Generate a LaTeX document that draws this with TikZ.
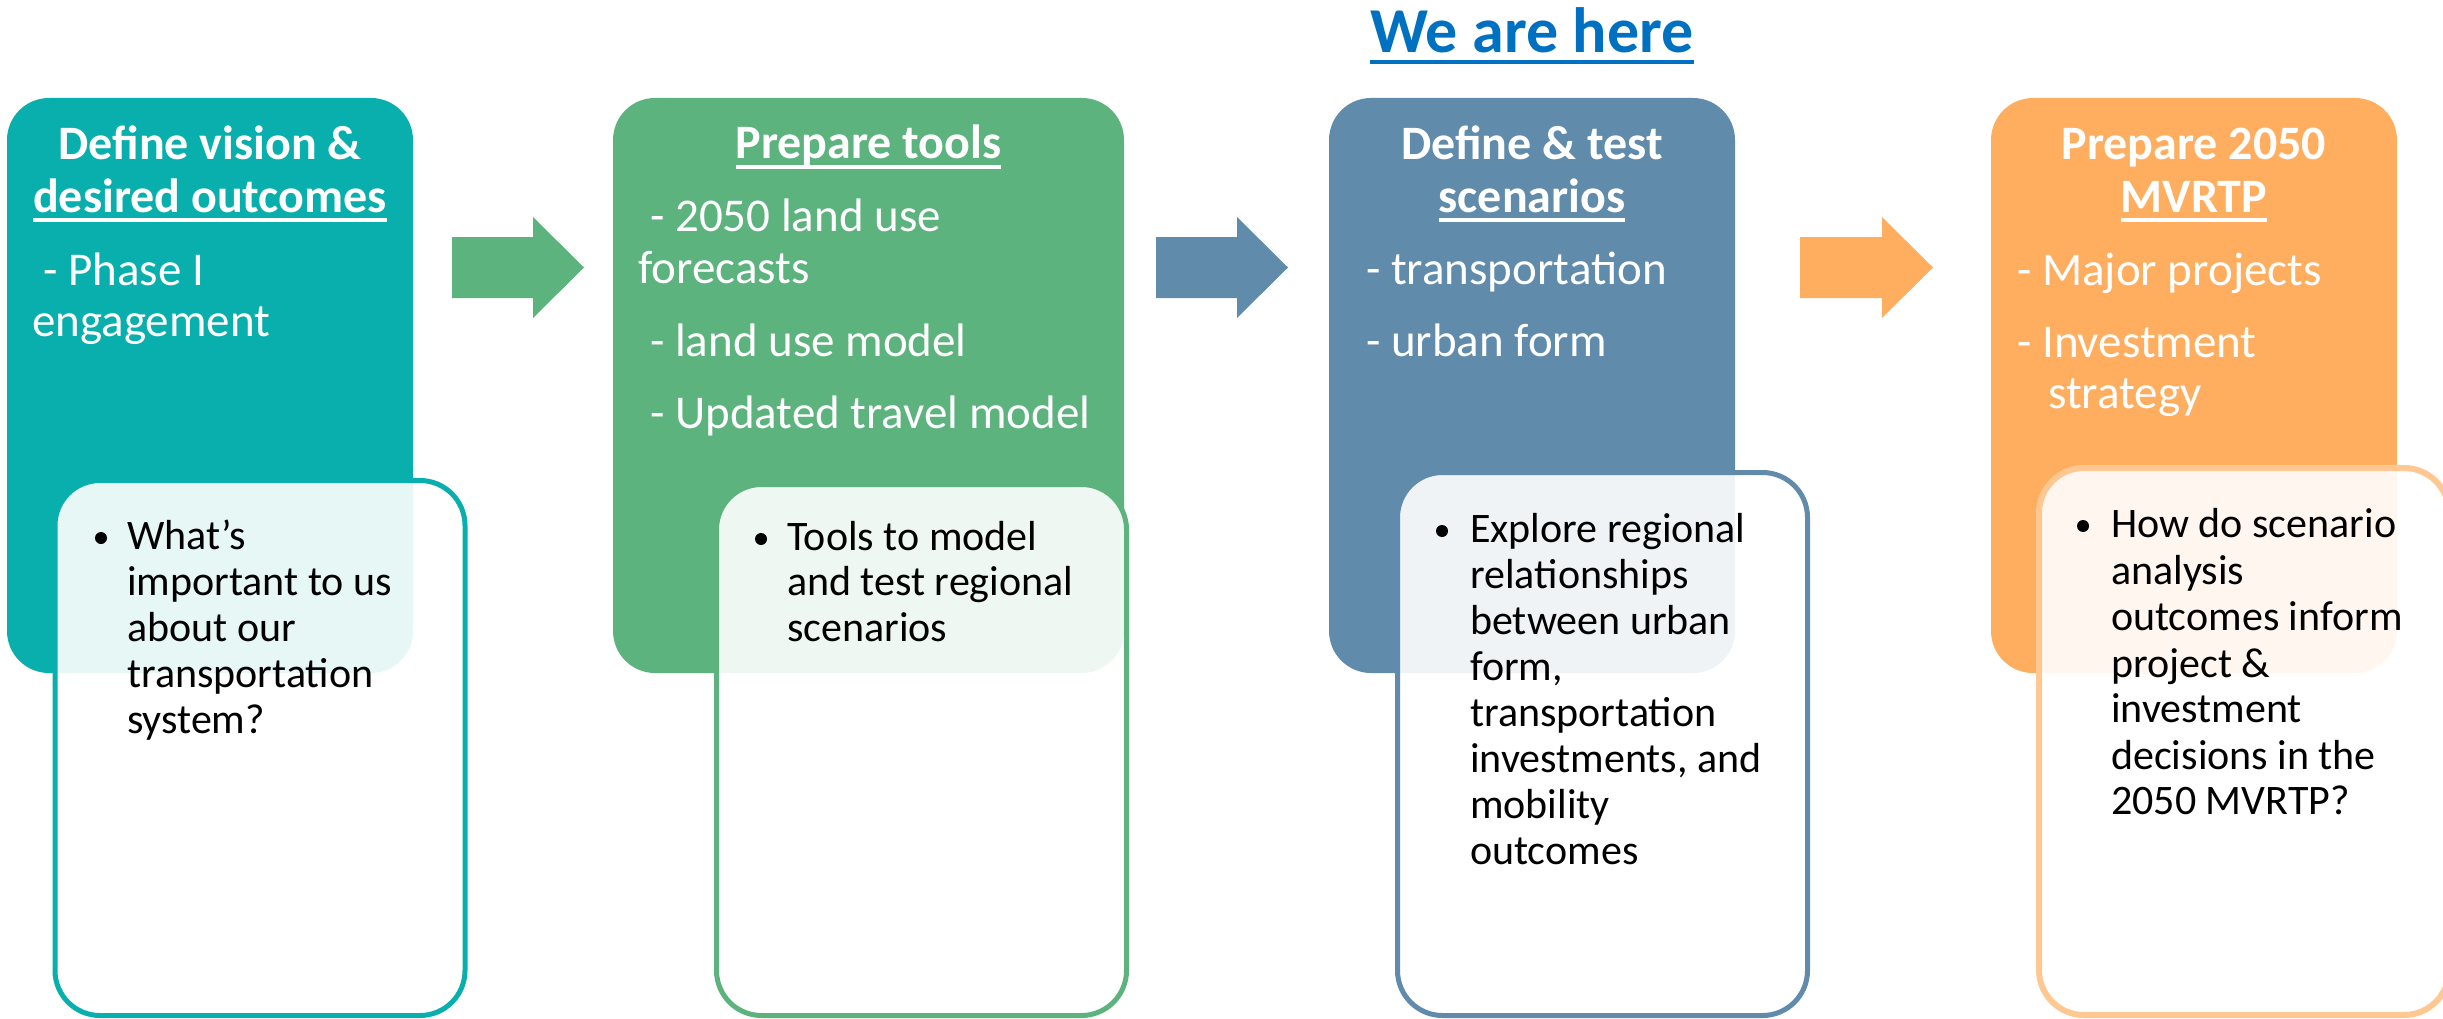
\documentclass[tikz,border=0pt]{standalone}
\usepackage{fontspec}
\setmainfont{Carlito}
\definecolor{cteal}{HTML}{09AFAC}
\definecolor{cgreen}{HTML}{5DB37E}
\definecolor{cslate}{HTML}{608BAB}
\definecolor{corange}{HTML}{FFAE60}
\definecolor{clorange}{HTML}{FFC892}
\definecolor{cblue}{HTML}{0070C0}
\newcommand\myuline[1]{\setbox0=\hbox{#1}\rlap{\rule[-0.2em]{\wd0}{0.07em}}\box0}
\tikzset{
  mainbox/.style={rectangle, rounded corners=42pt, inner sep=0pt, draw=none, minimum height=575pt},
  subbox/.style={rectangle, rounded corners=45pt, inner sep=0pt, line width=5pt, fill=white, fill opacity=0.9, minimum width=410pt},
  ttl/.style={font=\fontsize{48}{52}\selectfont\bfseries, text=white, inner sep=0pt, anchor=base},
  itm/.style={font=\fontsize{47}{52}\selectfont, text=white, inner sep=0pt, anchor=base west},
  subtxt/.style={font=\fontsize{42}{46}\selectfont, text=black, inner sep=0pt, anchor=base west},
  blt/.style={circle, fill=black, inner sep=0pt, minimum size=12pt},
}
\begin{document}
\begin{tikzpicture}[x=1pt,y=-1pt]
\path[use as bounding box] (0,0) rectangle (2443,1019);
\clip (0,0) rectangle (2443,1019);

% heading
\node[font=\fontsize{64}{70}\selectfont\bfseries, text=cblue, inner sep=0pt, anchor=base] (here) at (1532,53) {\setbox0=\hbox{We are here}\rlap{\rule[-0.17em]{\wd0}{0.065em}}\box0};

% main boxes
\node[mainbox, fill=cteal,   minimum width=406pt] (b1) at (210,385.5) {};
\node[mainbox, fill=cgreen,  minimum width=511pt] (b2) at (868.5,385.5) {};
\node[mainbox, fill=cslate,  minimum width=406pt] (b3) at (1532,385.5) {};
\node[mainbox, fill=corange, minimum width=406pt] (b4) at (2194,385.5) {};

% block arrows
\fill[cgreen]  (452,237) -- (533,237) -- (533,217) -- (584,267.5) -- (533,318) -- (533,298) -- (452,298) -- cycle;
\fill[cslate]  (1156,237) -- (1237,237) -- (1237,217) -- (1288,267.5) -- (1237,318) -- (1237,298) -- (1156,298) -- cycle;
\fill[corange] (1800,237) -- (1882,237) -- (1882,217) -- (1933,267.5) -- (1882,318) -- (1882,298) -- (1800,298) -- cycle;

% box 1 text
\node[ttl] (t1a) at (210,160) {Define vision \&};
\node[ttl] (t1b) at (210,212) {\myuline{desired outcomes}};
\node[itm] (i1a) at (43,285) {- Phase I};
\node[itm] (i1b) at (32,336) {engagement};

% box 2 text
\node[ttl] (t2a) at (868.5,159) {\myuline{Prepare tools}};
\node[itm] (i2a) at (650,231) {- 2050 land use};
\node[itm] (i2b) at (638,283) {forecasts};
\node[itm] (i2c) at (650,356) {- land use model};
\node[itm] (i2d) at (650,428) {- Updated travel model};

% box 3 text
\node[ttl] (t3a) at (1532,160) {Define \& test};
\node[ttl] (t3b) at (1532,212) {\myuline{scenarios}};
\node[itm] (i3a) at (1366,284) {- transportation};
\node[itm] (i3b) at (1366,356) {- urban form};

% box 4 text
\node[ttl] (t4a) at (2194,160) {Prepare 2050};
\node[ttl] (t4b) at (2194,212) {\myuline{MVRTP}};
\node[itm] (i4a) at (2017,285) {- Major projects};
\node[itm] (i4b) at (2017,357) {- Investment};
\node[itm] (i4c) at (2048,408) {strategy};

% sub boxes
\node[subbox, draw=cteal,    minimum height=535pt] (s1) at (260,748) {};
\node[subbox, draw=cgreen,   minimum height=531pt] (s2) at (921.5,750) {};
\node[subbox, draw=cslate,   minimum height=543pt] (s3) at (1602.5,744) {};
\node[subbox, draw=clorange, line width=6pt, minimum height=547pt] (s4) at (2244,741.5) {};

% sub 1
\node[blt] (d1) at (101,538) {};
\node[subtxt] (s1a) at (127,549) {What’s};
\node[subtxt] (s1b) at (127,595) {important to us};
\node[subtxt] (s1c) at (127,641) {about our};
\node[subtxt] (s1d) at (127,687) {transportation};
\node[subtxt] (s1e) at (127,733) {system?};

% sub 2
\node[blt] (d2) at (761,539) {};
\node[subtxt] (s2a) at (787,550) {Tools to model};
\node[subtxt] (s2b) at (787,595) {and test regional};
\node[subtxt] (s2c) at (787,641) {scenarios};

% sub 3
\node[blt] (d3) at (1442,531) {};
\node[subtxt] (s3a) at (1470,542) {Explore regional};
\node[subtxt] (s3b) at (1470,588) {relationships};
\node[subtxt] (s3c) at (1470,634) {between urban};
\node[subtxt] (s3d) at (1470,680) {form,};
\node[subtxt] (s3e) at (1470,726) {transportation};
\node[subtxt] (s3f) at (1470,772) {investments, and};
\node[subtxt] (s3g) at (1470,818) {mobility};
\node[subtxt] (s3h) at (1470,864) {outcomes};

% sub 4
\node[blt] (d4) at (2083,526) {};
\node[subtxt] (s4a) at (2111,537) {How do scenario};
\node[subtxt] (s4b) at (2111,584) {analysis};
\node[subtxt] (s4c) at (2111,630) {outcomes inform};
\node[subtxt] (s4d) at (2111,677) {project \&};
\node[subtxt] (s4e) at (2111,722) {investment};
\node[subtxt] (s4f) at (2111,769) {decisions in the};
\node[subtxt] (s4g) at (2111,814) {2050 MVRTP?};
\end{tikzpicture}
\end{document}
